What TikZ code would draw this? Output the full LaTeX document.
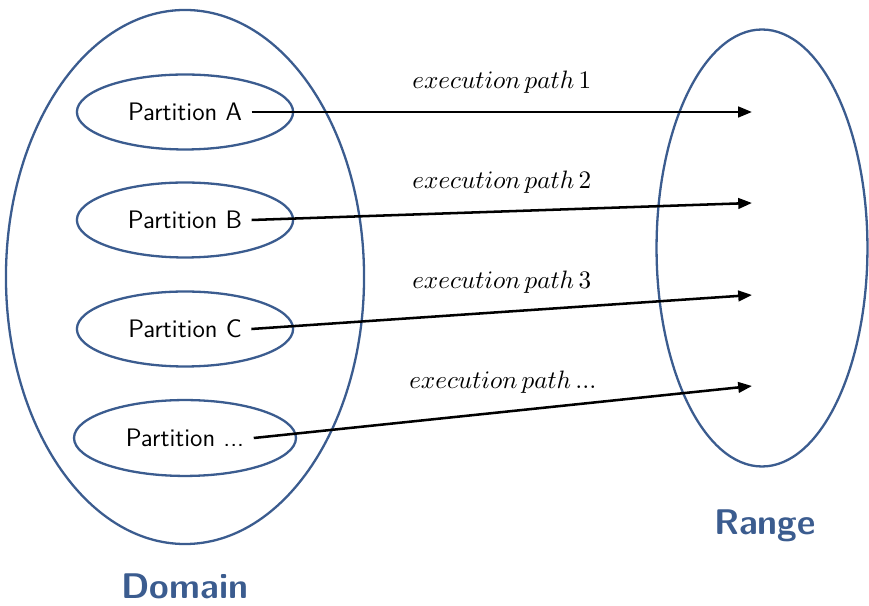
\documentclass[tikz,border=0pt]{standalone}
\usepackage{amsmath}
\usetikzlibrary{arrows.meta, positioning, shapes.geometric}
\definecolor{cSet}{RGB}{59,92,143}
\tikzset{
	setell/.style ={ellipse, draw=cSet, line width=1pt, inner sep=0pt},
	partell/.style={ellipse, draw=cSet, line width=1pt, inner sep=0pt, minimum width=94pt, minimum height=32.6pt},
	ptext/.style  ={font=\sffamily\fontsize{11}{13}\selectfont, inner sep=4pt},
	setname/.style={font=\sffamily\bfseries\fontsize{15.5}{18}\selectfont, text=cSet},
	pathlbl/.style={font=\fontsize{10.5}{12}\selectfont, above=4pt},
	maparrow/.style={-{Triangle[length=6pt, width=4.6pt]}, line width=1.1pt},
}
\begin{document}
\begin{tikzpicture}[x=0.4348pt, y=-0.4348pt]
			\useasboundingbox (0,0) rectangle (869,606);
			% domain and range
			\node[setell, minimum width=155.7pt, minimum height=232.2pt] (dom) at (185,277) {};
			\node[setell, minimum width=91.7pt, minimum height=190pt] (rng) at (762,248) {};
			\node[setname] (domlbl) at (185,586) {Domain};
			\node[setname] (rnglbl) at (765,526) {Range};
			% partitions
			\node[partell] (pA) at (185,112) {}; \node[ptext] (tA) at (pA) {Partition A};
			\node[partell] (pB) at (185,220) {}; \node[ptext] (tB) at (pB) {Partition B};
			\node[partell] (pC) at (185,329) {}; \node[ptext] (tC) at (pC) {Partition C};
			\node[partell, minimum width=96.5pt, minimum height=33pt] (pD) at (185,438) {}; \node[ptext] (tD) at (pD) {Partition ...};
			% images in the range
			\coordinate (rA) at (752,112);
			\coordinate (rB) at (752,203);
			\coordinate (rC) at (752,295);
			\coordinate (rD) at (752,386);
			\draw[maparrow] (tA.east) -- node[pathlbl] {$execution\,path\,1$} (rA);
			\draw[maparrow] (tB.east) -- node[pathlbl] {$execution\,path\,2$} (rB);
			\draw[maparrow] (tC.east) -- node[pathlbl] {$execution\,path\,3$} (rC);
			\draw[maparrow] (tD.east) -- node[pathlbl] {$execution\,path\,...$} (rD);
		\end{tikzpicture}
\end{document}
